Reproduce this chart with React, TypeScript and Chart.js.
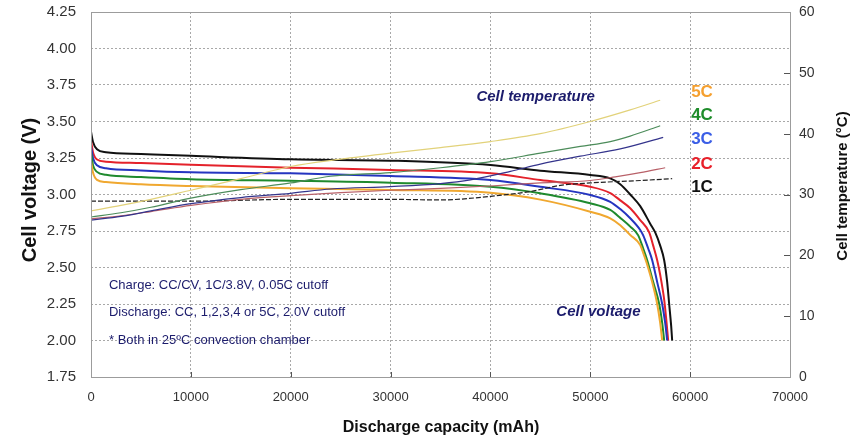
import React, { useEffect, useRef } from "react";
import { Chart, registerables } from "chart.js";
Chart.register(...registerables);

// ---- Voltage curves (left axis, V) ----
const cap1C = [0, 200, 600, 1500, 5000, 10000, 20000, 30000, 40000, 45000, 50000, 52000, 53000, 54000, 55000, 56000, 56500, 57000, 57400, 57700, 57900, 58100, 58200];
const volt1C = [3.43, 3.36, 3.31, 3.29, 3.278, 3.265, 3.241, 3.232, 3.202, 3.163, 3.134, 3.11, 3.07, 3.0, 2.92, 2.8, 2.74, 2.65, 2.55, 2.4, 2.25, 2.1, 2.0];

const cap2C = [0, 200, 600, 1500, 5000, 10000, 20000, 30000, 40000, 45000, 50000, 52000, 53000, 54000, 55000, 55900, 56300, 56700, 57000, 57400, 57600, 57800];
const volt2C = [3.37, 3.29, 3.24, 3.225, 3.215, 3.203, 3.184, 3.168, 3.145, 3.099, 3.053, 3.01, 2.96, 2.906, 2.825, 2.74, 2.65, 2.55, 2.45, 2.28, 2.15, 2.0];

const cap3C = [0, 200, 600, 1500, 5000, 10000, 20000, 30000, 40000, 45000, 50000, 52000, 53000, 54000, 55000, 55300, 55800, 56200, 56700, 57200, 57500, 57700];
const volt3C = [3.33, 3.25, 3.2, 3.18, 3.165, 3.152, 3.145, 3.127, 3.099, 3.053, 2.997, 2.95, 2.9, 2.837, 2.757, 2.72, 2.63, 2.55, 2.4, 2.25, 2.12, 2.0];

const cap4C = [0, 200, 600, 1500, 5000, 10000, 20000, 30000, 40000, 45000, 50000, 52000, 53000, 54000, 54800, 55300, 55700, 56300, 56900, 57200, 57400];
const volt4C = [3.29, 3.2, 3.155, 3.135, 3.12, 3.105, 3.095, 3.081, 3.053, 3.008, 2.94, 2.894, 2.84, 2.78, 2.72, 2.63, 2.55, 2.4, 2.25, 2.12, 2.0];

const cap5C = [0, 200, 600, 1500, 5000, 10000, 20000, 30000, 40000, 45000, 50000, 52000, 53000, 54000, 55000, 55300, 55700, 56200, 56700, 57000, 57200];
const volt5C = [3.23, 3.15, 3.1, 3.085, 3.07, 3.058, 3.042, 3.031, 3.012, 2.965, 2.882, 2.837, 2.79, 2.723, 2.654, 2.6, 2.52, 2.4, 2.25, 2.12, 2.0];

// ---- Temperature curves (right axis, °C) ----
const tcap1C = [0, 10000, 20000, 30000, 35000, 40000, 44000, 47000, 50000, 55000, 58200];
const temp1C = [28.9, 28.9, 29.2, 29.2, 29.1, 29.7, 30.5, 31.5, 31.9, 32.3, 32.6];

const tcap2C = [0, 3000, 6000, 10000, 15000, 20000, 25000, 30000, 35000, 40000, 45000, 50000, 52500, 55000, 57500];
const temp2C = [26.0, 26.5, 27.2, 28.2, 29.2, 29.8, 30.3, 30.7, 31.0, 31.4, 31.9, 32.3, 32.9, 33.6, 34.4];

const tcap3C = [0, 3000, 6000, 10000, 15000, 20000, 24000, 30000, 35000, 38000, 42000, 45000, 49000, 53000, 57300];
const temp3C = [25.8, 26.4, 27.3, 28.5, 29.5, 30.2, 30.9, 31.3, 31.8, 32.4, 33.8, 35.0, 36.3, 37.5, 39.4];

const tcap4C = [0, 3000, 6000, 10000, 15000, 20000, 24000, 30000, 35000, 40000, 45000, 49000, 52000, 54000, 57000];
const temp4C = [26.3, 27.0, 27.9, 29.4, 30.8, 31.9, 33.0, 33.6, 34.4, 35.4, 36.8, 37.9, 38.7, 39.6, 41.3];

const tcap5C = [0, 3000, 6000, 10000, 15000, 20000, 25000, 30000, 35000, 40000, 45000, 50000, 54000, 57000];
const temp5C = [27.3, 28.2, 29.2, 30.7, 32.6, 34.6, 35.8, 36.8, 37.7, 38.7, 40.0, 42.0, 43.9, 45.5];

// ---- Axis ticks / labels ----
const xMin = 0, xMax = 70000, xStep = 10000;
const vMin = 1.75, vMax = 4.25, vStep = 0.25;
const tMin = 0, tMax = 60, tStep = 10;
const rateLabels = ["5C", "4C", "3C", "2C", "1C"];

const FONT = "'Liberation Sans', Arial, Helvetica, sans-serif";
const NAVY = "#1c1c6c";

function pts(xs: number[], ys: number[]) {
  return xs.map((x, i) => ({ x, y: ys[i] }));
}

const overlay = {
  id: "overlay",
  afterDraw(chart: any) {
    const { ctx, chartArea: a, scales } = chart;
    const sx = scales.x, sy = scales.y, sy1 = scales.y1;
    ctx.save();
    ctx.setLineDash([]);
    ctx.strokeStyle = "#9c9c9c";
    ctx.lineWidth = 1;
    ctx.strokeRect(Math.round(a.left) + 0.5, Math.round(a.top) + 0.5, Math.round(a.right - a.left), Math.round(a.bottom - a.top));
    // inner ticks on bottom and right axes
    ctx.strokeStyle = "#555";
    ctx.beginPath();
    for (let v = xMin + xStep; v < xMax; v += xStep) {
      const px = Math.round(sx.getPixelForValue(v)) + 0.5;
      ctx.moveTo(px, a.bottom);
      ctx.lineTo(px, a.bottom - 5);
    }
    for (let t = tMin + tStep; t < tMax; t += tStep) {
      const py = Math.round(sy1.getPixelForValue(t)) + 0.5;
      ctx.moveTo(a.right, py);
      ctx.lineTo(a.right - 6, py);
    }
    ctx.stroke();

    // axis titles
    ctx.fillStyle = "#111";
    ctx.textAlign = "center";
    ctx.textBaseline = "middle";
    ctx.save();
    ctx.translate(30, 190);
    ctx.rotate(-Math.PI / 2);
    ctx.font = `bold 20px ${FONT}`;
    ctx.fillText("Cell voltage (V)", 0, 0);
    ctx.restore();
    ctx.save();
    ctx.translate(843, 186);
    ctx.rotate(-Math.PI / 2);
    ctx.font = `bold 15px ${FONT}`;
    ctx.fillText("Cell temperature (\u00B0C)", 0, 0);
    ctx.restore();
    ctx.font = `bold 16px ${FONT}`;
    ctx.fillText("Discharge capacity (mAh)", 441, 428);

    // rate labels
    const rateColors = ["#f5a030", "#1e8c2a", "#3b5ee6", "#e8202a", "#111111"];
    const rateV = [3.7, 3.545, 3.38, 3.209, 3.051];
    ctx.textAlign = "left";
    ctx.font = `bold 17px ${FONT}`;
    rateLabels.forEach((l, i) => {
      ctx.fillStyle = rateColors[i];
      ctx.fillText(l, sx.getPixelForValue(60100), sy.getPixelForValue(rateV[i]));
    });

    // annotations
    ctx.fillStyle = NAVY;
    ctx.font = `italic bold 15px ${FONT}`;
    ctx.fillText("Cell temperature", sx.getPixelForValue(38600), sy.getPixelForValue(3.67));
    ctx.fillText("Cell voltage", sx.getPixelForValue(46600), sy.getPixelForValue(2.195));
    ctx.font = `13px ${FONT}`;
    ctx.fillText("Charge: CC/CV, 1C/3.8V, 0.05C cutoff", sx.getPixelForValue(1800), sy.getPixelForValue(2.38));
    ctx.fillText("Discharge: CC, 1,2,3,4 or 5C, 2.0V cutoff", sx.getPixelForValue(1800), sy.getPixelForValue(2.195));
    ctx.fillText("* Both in 25\u00BAC convection chamber", sx.getPixelForValue(1800), sy.getPixelForValue(2.003));
    ctx.restore();
  },
};

export default function App() {
  const ref = useRef<HTMLCanvasElement | null>(null);
  useEffect(() => {
    if (!ref.current) return;
    const vLine = (label: string, xs: number[], ys: number[], color: string) => ({
      label,
      data: pts(xs, ys),
      yAxisID: "y",
      borderColor: color,
      borderWidth: 2,
      pointRadius: 0,
      cubicInterpolationMode: "monotone" as const,
      fill: false,
    });
    const tLine = (label: string, xs: number[], ys: number[], color: string, dash: number[] = []) => ({
      label,
      data: pts(xs, ys),
      yAxisID: "y1",
      borderColor: color,
      borderWidth: 1.2,
      borderDash: dash,
      pointRadius: 0,
      cubicInterpolationMode: "monotone" as const,
      fill: false,
    });
    const noPadV = (w: number) => (s: any) => { s.width = w; s.paddingTop = 0; s.paddingBottom = 0; };
    const chart = new Chart(ref.current, {
      type: "line",
      data: {
        datasets: [
          tLine("5C temp", tcap5C, temp5C, "#e2d27a"),
          tLine("4C temp", tcap4C, temp4C, "#4c8c5a"),
          tLine("3C temp", tcap3C, temp3C, "#34348c"),
          tLine("2C temp", tcap2C, temp2C, "#b86068"),
          tLine("1C temp", tcap1C, temp1C, "#222222", [5, 2]),
          vLine("5C", cap5C, volt5C, "#f0a830"),
          vLine("4C", cap4C, volt4C, "#1f8a2e"),
          vLine("3C", cap3C, volt3C, "#2535c0"),
          vLine("2C", cap2C, volt2C, "#e4222b"),
          vLine("1C", cap1C, volt1C, "#111111"),
        ],
      },
      options: {
        responsive: false,
        animation: false,
        devicePixelRatio: 1,
        layout: { padding: { top: 12, left: 0, right: 0, bottom: 0 } },
        plugins: { legend: { display: false }, tooltip: { enabled: false } },
        scales: {
          x: {
            type: "linear",
            min: xMin,
            max: xMax,
            afterFit: (s: any) => { s.height = 64; s.paddingLeft = 0; s.paddingRight = 0; },
            ticks: { stepSize: xStep, autoSkip: false, maxRotation: 0, color: "#333", padding: 13, font: { family: FONT, size: 13 }, callback: (v: any) => String(v) },
            grid: { color: "#a8a8a8", drawTicks: false },
            border: { display: false, dash: [2, 2] },
          },
          y: {
            type: "linear",
            position: "left",
            min: vMin,
            max: vMax,
            afterFit: noPadV(91),
            ticks: { stepSize: vStep, color: "#333", padding: 15, font: { family: FONT, size: 15 }, callback: (v: any) => Number(v).toFixed(2) },
            grid: { color: "#a8a8a8", drawTicks: false },
            border: { display: false, dash: [2, 2] },
          },
          y1: {
            type: "linear",
            position: "right",
            min: tMin,
            max: tMax,
            afterFit: noPadV(66),
            ticks: { stepSize: tStep, color: "#333", padding: 9, font: { family: FONT, size: 14 } },
            grid: { display: false, drawTicks: false },
            border: { display: false },
          },
        },
      },
      plugins: [overlay],
    } as any);
    return () => chart.destroy();
  }, []);
  return (
    <div style={{ position: "absolute", left: 0, top: 0, width: 856, height: 441, background: "#fff" }}>
      <canvas ref={ref} width={856} height={441} style={{ display: "block", width: 856, height: 441 }} />
    </div>
  );
}
